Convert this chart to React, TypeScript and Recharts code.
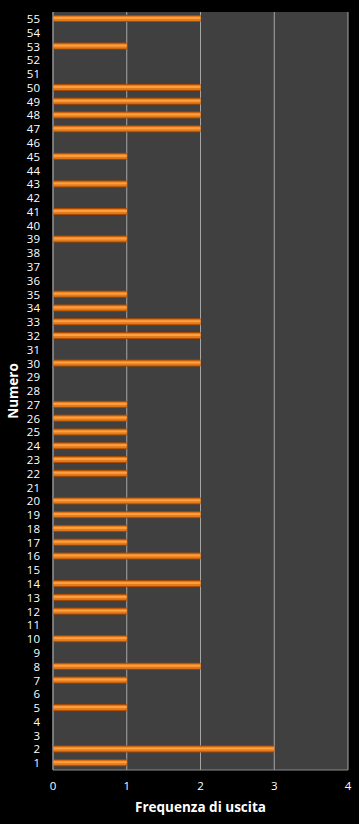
import React from 'react';
import { BarChart, Bar, XAxis, YAxis, CartesianGrid } from 'recharts';

// numbers 1..55 and how many times each came out
const numeri: number[] = Array.from({ length: 55 }, (_, i) => i + 1);
const frequenze: number[] = [
  1, 3, 0, 0, 1, 0, 1, 2, 0, 1, // 1-10
  0, 1, 1, 2, 0, 2, 1, 1, 2, 2, // 11-20
  0, 1, 1, 1, 1, 1, 1, 0, 0, 2, // 21-30
  0, 2, 2, 1, 1, 0, 0, 0, 1, 0, // 31-40
  1, 0, 1, 0, 1, 0, 2, 2, 2, 2, // 41-50
  0, 0, 1, 0, 2,                // 51-55
];
const xTicks: number[] = [0, 1, 2, 3, 4];

// category axis runs top->bottom, so 55 goes first
const data = numeri.map((n, i) => ({ n: String(n), f: frequenze[i] })).reverse();

const FONT = '"Open Sans", "Liberation Sans", sans-serif';
const tickStyle = { fontSize: 11.5, fill: '#ffffff', fontFamily: FONT };

// orange bar with a lighter stripe through the middle (Excel-style bevel)
const OrangeBar = (props: any) => {
  const { x, y, width, height } = props;
  if (!width || width <= 0) return null;
  return (
    <g>
      <rect x={x} y={y} width={width} height={height} fill="#a84a00" />
      <rect x={x} y={y + 1} width={width} height={height - 2} fill="#e37a1c" />
      <rect x={x} y={y + 2} width={width} height={2} fill="#ffa040" />
    </g>
  );
};

export default function App() {
  return (
    <div style={{ position: 'absolute', left: 0, top: 0, width: 359, height: 824, background: '#000000' }}>
      <BarChart
        width={359}
        height={824}
        data={data}
        layout="vertical"
        margin={{ top: 12, right: 11, left: 0, bottom: 0 }}
        barSize={7}
      >
        <CartesianGrid horizontal={false} stroke="#a6a6a6" fill="#404040" fillOpacity={1} />
        <XAxis
          type="number"
          domain={[0, 4]}
          ticks={xTicks}
          tick={tickStyle}
          tickLine={false}
          axisLine={{ stroke: '#8c8c8c' }}
          tickMargin={6}
          height={54}
          label={{
            value: 'Frequenza di uscita',
            position: 'insideBottom',
            offset: 12,
            style: { fontSize: 13.5, fontWeight: 'bold', fill: '#ffffff', fontFamily: FONT },
          }}
        />
        <YAxis
          type="category"
          dataKey="n"
          interval={0}
          width={53}
          tick={tickStyle}
          tickLine={false}
          axisLine={{ stroke: '#8c8c8c' }}
          tickMargin={7}
          label={{
            value: 'Numero',
            angle: -90,
            position: 'insideLeft',
            offset: 13,
            style: { fontSize: 13.5, fontWeight: 'bold', fill: '#ffffff', fontFamily: FONT, textAnchor: 'middle' },
          }}
        />
        <Bar dataKey="f" fill="#e07820" shape={OrangeBar} isAnimationActive={false} />
      </BarChart>
    </div>
  );
}
